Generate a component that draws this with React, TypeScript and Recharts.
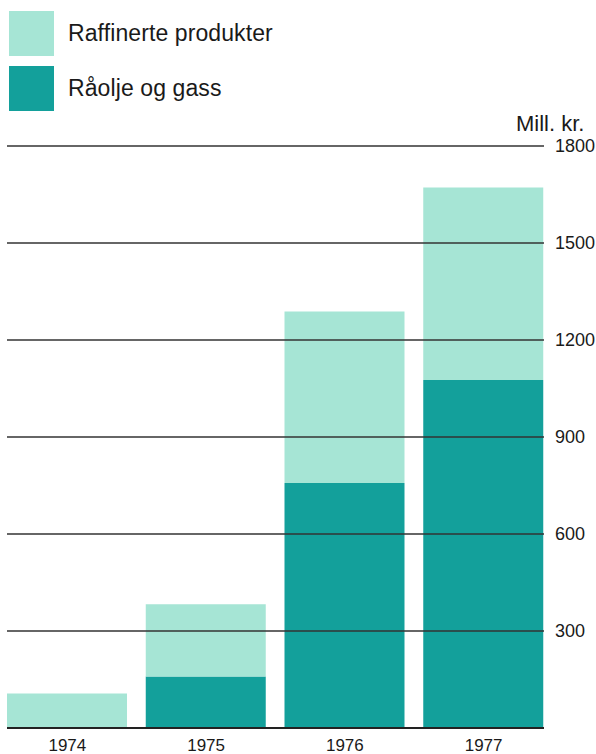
import { BarChart, Bar, XAxis, YAxis, ReferenceLine } from 'recharts';

// ── Data (Mill. kr.) ─────────────────────────────────────────────────

const years = ['1974', '1975', '1976', '1977'];
const raaoljeOgGass = [0, 159, 758, 1076];
const raffinerteProdukter = [107, 224, 530, 596];
const yTicks = [0, 300, 600, 900, 1200, 1500, 1800];

const LIGHT = '#a6e5d5';
const DARK = '#13a09b';
const FONT = '"Liberation Sans", Arial, sans-serif';

const data = years.map((year, i) => ({
  year,
  raaolje: raaoljeOgGass[i],
  raffinerte: raffinerteProdukter[i],
}));

const legendItems = [
  { label: 'Raffinerte produkter', color: LIGHT },
  { label: 'Råolje og gass', color: DARK },
];

function LegendBox() {
  return (
    <div style={{ position: 'absolute', left: 21, top: 11, fontFamily: FONT }}>
      {legendItems.map((item) => (
        <div key={item.label} style={{ display: 'flex', alignItems: 'center', height: 45, marginBottom: 10 }}>
          <div style={{ width: 45, height: 45, background: item.color }} />
          <span style={{ marginLeft: 14, fontSize: 23, color: '#1a1a1a', letterSpacing: 0.1 }}>{item.label}</span>
        </div>
      ))}
    </div>
  );
}

export default function App() {
  return (
    <div style={{ position: 'relative', marginLeft: -12, width: 616, height: 754, overflow: 'visible' }}>
      <style>{'body{margin:0;overflow:hidden}'}</style>
      <BarChart
        width={616}
        height={754}
        data={data}
        margin={{ top: 146, right: 0, bottom: 0, left: 19 }}
        barCategoryGap={9}
      >
        <XAxis
          dataKey="year"
          padding={{ left: -9, right: -9 }}
          axisLine={{ stroke: '#222', strokeWidth: 2 }}
          tickLine={false}
          tickSize={0}
          tickMargin={11}
          height={26}
          tick={{ fontSize: 17, fill: '#1a1a1a', fontFamily: FONT }}
        />
        <YAxis
          orientation="right"
          domain={[0, 1800]}
          ticks={yTicks}
          width={60}
          axisLine={false}
          tickLine={false}
          tickSize={0}
          tickMargin={11}
          tickFormatter={(v: number) => (v === 0 ? '' : String(v))}
          tick={{ fontSize: 18, fill: '#1a1a1a', fontFamily: FONT }}
        />
        <Bar dataKey="raaolje" stackId="a" fill={DARK} barSize={120} isAnimationActive={false} />
        <Bar dataKey="raffinerte" stackId="a" fill={LIGHT} barSize={120} isAnimationActive={false} />
        {yTicks.filter((v) => v > 0).map((v) => (
          <ReferenceLine key={v} y={v} stroke="#333" strokeWidth={1.5} />
        ))}
      </BarChart>
      <LegendBox />
      <div
        style={{
          position: 'absolute',
          left: 528,
          top: 111,
          fontFamily: FONT,
          fontSize: 22,
          color: '#1a1a1a',
        }}
      >
        Mill. kr.
      </div>
    </div>
  );
}
